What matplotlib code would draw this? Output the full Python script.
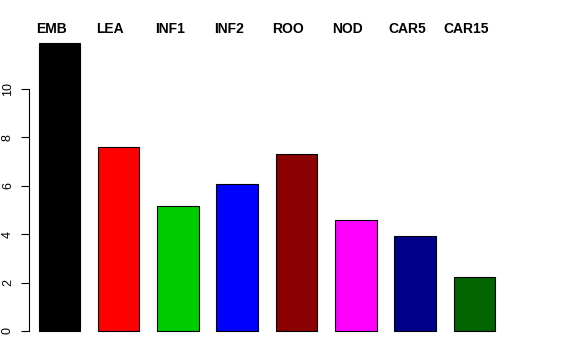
import matplotlib
matplotlib.use('Agg')
import matplotlib.pyplot as plt

# categories and values
categories = ['EMB', 'LEA', 'INF1', 'INF2', 'ROO', 'NOD', 'CAR5', 'CAR15']
values = [11.9, 7.6, 5.17, 6.07, 7.31, 4.59, 3.93, 2.24]
colors = ['#000000', '#FF0000', '#00CD00', '#0000FF', '#8B0000', '#FF00FF', '#00008B', '#006400']
yticks = [0, 2, 4, 6, 8, 10]

plt.rcParams['font.family'] = ['Liberation Sans', 'DejaVu Sans']

fig = plt.figure(figsize=(5.76, 3.6), dpi=100)
ax = fig.add_axes([29 / 576, 0.047, (540 - 29) / 576, 0.8436])

x = list(range(len(categories)))
ax.bar(x, values, width=0.7, color=colors, edgecolor='black', linewidth=0.8)

ax.set_xlim(-0.511, 8.106)
ax.set_ylim(-0.5, 12.05)

# labels above the bars
for i, name in enumerate(categories):
    ax.text(i - 0.14, 12.48, name, ha='center', va='center',
            fontsize=10, fontweight='bold', clip_on=False)

for s in ['top', 'right', 'bottom']:
    ax.spines[s].set_visible(False)
ax.spines['left'].set_bounds(0, 10)
ax.spines['left'].set_linewidth(0.8)
ax.set_xticks([])
ax.set_yticks(yticks)
ax.set_yticklabels([str(t) for t in yticks], rotation=90, va='center', fontsize=9)
ax.tick_params(axis='y', length=5.8, width=0.8, pad=5)

fig.savefig('out.png', dpi=100)
